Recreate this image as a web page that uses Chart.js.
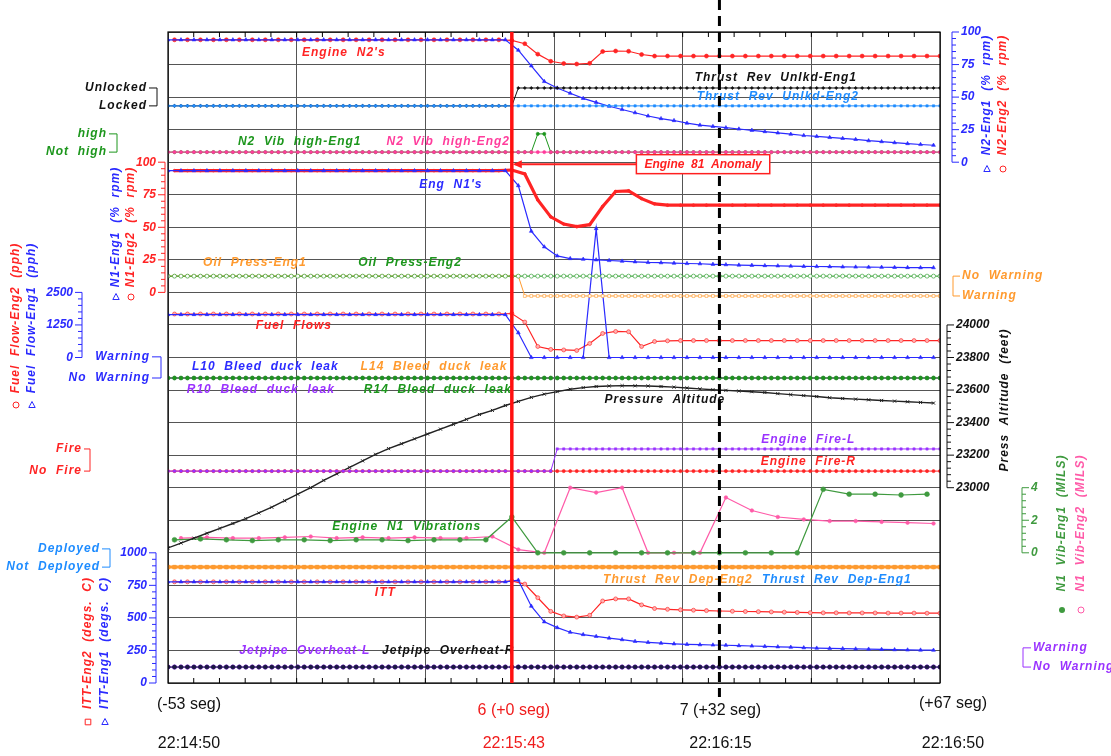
<!DOCTYPE html>
<html>
<head>
<meta charset="utf-8">
<script src="https://cdn.jsdelivr.net/npm/chart.js@4.4.1/dist/chart.umd.min.js"></script>
<style>html,body{margin:0;background:#fff}canvas{display:block}</style>
</head>
<body>
<canvas id="c" width="1111" height="756"></canvas>
<script>
// sample times, seconds from the event (22:15:43)
const T1 = [-53,-52,-51,-50,-49,-48,-47,-46,-45,-44,-43,-42,-41,-40,-39,-38,-37,-36,-35,-34,-33,-32,-31,-30,-29,-28,-27,-26,-25,-24,-23,-22,-21,-20,-19,-18,-17,-16,-15,-14,-13,-12,-11,-10,-9,-8,-7,-6,-5,-4,-3,-2,-1,0,1,2,3,4,5,6,7,8,9,10,11,12,13,14,15,16,17,18,19,20,21,22,23,24,25,26,27,28,29,30,31,32,33,34,35,36,37,38,39,40,41,42,43,44,45,46,47,48,49,50,51,52,53,54,55,56,57,58,59,60,61,62,63,64,65,66];
const T2 = [-53,-51,-49,-47,-45,-43,-41,-39,-37,-35,-33,-31,-29,-27,-25,-23,-21,-19,-17,-15,-13,-11,-9,-7,-5,-3,-1,1,3,5,7,9,11,13,15,17,19,21,23,25,27,29,31,33,35,37,39,41,43,45,47,49,51,53,55,57,59,61,63,65];
const T2e = [-52,-50,-48,-46,-44,-42,-40,-38,-36,-34,-32,-30,-28,-26,-24,-22,-20,-18,-16,-14,-12,-10,-8,-6,-4,-2,0,2,4,6,8,10,12,14,16,18,20,22,24,26,28,30,32,34,36,38,40,42,44,46,48,50,52,54,56,58,60,62,64,66];
const TV1 = [-52,-48,-44,-40,-36,-32,-28,-24,-20,-16,-12,-8,-4,0,4,8,12,16,20,24,28,32,36,40,44,48,52,56,60,64];
const TV2 = [-51,-47,-43,-39,-35,-31,-27,-23,-19,-15,-11,-7,-3,1,5,9,13,17,21,25,29,33,37,41,45,49,53,57,61,65];

// analog parameters: Eng1 on T2 (odd seconds), Eng2 on T2e (even seconds)
const n2Eng1 = [94,94,94,94,94,94,94,94,94, 94,94,94,94,94,94,94,94,94, 94,94,94,94,94,94,94,94,94,
  86,74,62,57,53,49,46,43,40.5,38,35.5,33.5,32,30,28.5,27.5,26.5,25.5,24.5,23.5,22.5,21.5,20.5,19.8,19,18.3,17.5,16.5,15.8,15,14.3,13.6,13];
const n2Eng2 = [94,94,94,94,94,94,94,94,94, 94,94,94,94,94,94,94,94,94, 94,94,94,94,94,94,94,94,
  93.5,91,83,77.5,75.8,75.4,76,85,85.4,85.2,82.7,81.5,81.5,81.5,81.5,81.5,81.5,81.5,81.5,81.5,81.5,81.5,81.5,81.5,81.5,81.5,81.5,81.5,81.5,81.5,81.5,81.5,81.5,81.5];
const n1Eng1 = [93.5,93.5,93.5,93.5,93.5,93.5,93.5,93.5,93.5, 93.5,93.5,93.5,93.5,93.5,93.5,93.5,93.5,93.5, 93.5,93.5,93.5,93.5,93.5,93.5,93.5,93.5,93.5,
  82,47,35,28,26,25.5,25,24.5,24,23.5,23,22.8,22.5,22.2,22,21.6,21.3,21,20.8,20.6,20.4,20.2,20,19.9,19.8,19.6,19.5,19.4,19.3,19.2,19.1,19,19];
const n1Eng2 = [93.5,93.5,93.5,93.5,93.5,93.5,93.5,93.5,93.5, 93.5,93.5,93.5,93.5,93.5,93.5,93.5,93.5,93.5, 93.5,93.5,93.5,93.5,93.5,93.5,93.5,93.5,
  94,91,71,58,52.5,50.5,52,66,77.5,78,72,68,67,67,67,67,67,67,67,67,67,67,67,67,67,67,67,67,67,67,67,67,67,67];
const ffEng1 = [1650,1650,1650,1650,1650,1650,1650,1650,1650, 1650,1650,1650,1650,1650,1650,1650,1650,1650, 1650,1650,1650,1650,1650,1650,1650,1650,1650,
  950,0,0,0,0,0,4950,0,0,0,0,0,0,0,0,0,0,0,0,0,0,0,0,0,0,0,0,0,0,0,0,0,0];
const ffEng2 = [1670,1670,1670,1670,1670,1670,1670,1670,1670, 1670,1670,1670,1670,1670,1670,1670,1670,1670, 1670,1670,1670,1670,1670,1670,1670,1670,
  1690,1360,423,310,290,270,538,923,1000,990,423,615,640,650,650,650,650,650,650,650,650,650,650,650,650,650,650,650,650,650,650,650,650,650];
const pressAlt = [22630,22660,22690,22720,22750,22780,22810,22845,22880,22920,22960,23000,23045,23085,23125,23165,23205,23240,23270,23300,
  23330,23360,23390,23420,23450,23475,23505,23530,23555,23575,23590,23605,23615,23622,23625,23627,23626,23625,23622,23618,
  23613,23607,23602,23598,23594,23590,23585,23578,23572,23566,23560,23553,23548,23544,23540,23536,23532,23528,23524,23520];
const ittEng1 = [777,777,777,777,777,777,777,777,777, 777,777,777,777,777,777,777,777,777, 777,777,777,777,777,777,777,777,777,
  790,590,470,425,390,372,358,345,333,320,312,306,301,297,294,292,290,287,284,281,278,275,271,268,266,264,262,260,258,256,254,253,252];
const ittEng2 = [777,777,777,777,777,777,777,777,777, 777,777,777,777,777,777,777,777,777, 777,777,777,777,777,777,777,777,
  785,760,655,550,515,506,520,630,646,646,600,572,566,562,559,556,553,551,549,548,546,544,542,540,539,539,538,538,538,537,537,537,536,536];
const vibEng1 = [0.8,0.85,0.8,0.75,0.8,0.8,0.75,0.8,0.8,0.75,0.8,0.8,0.8,2.2,0,0,0,0,0,0,0,0,0,0,0,3.9,3.6,3.6,3.55,3.6];
const vibEng2 = [0.9,0.95,0.9,0.9,0.95,1.0,0.9,0.95,0.9,0.95,0.9,0.9,1.0,0.2,0,4.0,3.7,4.0,0,0,0,3.4,2.6,2.2,2.05,1.95,1.95,1.9,1.85,1.8];

// discrete parameters on T1, as runs of [state, samples]
const trUnlkEng1 = [[0,54],[1,66]];
const trUnlkEng2 = [[0,120]];
const n2VibHiEng1 = [[0,57],[1,2],[0,61]];
const n2VibHiEng2 = [[0,120]];
const oilEng1 = [[0,55],[1,65]];
const oilEng2 = [[0,120]];
const bleedL10 = [[0,120]], bleedL14 = [[0,120]], bleedR10 = [[0,120]], bleedR14 = [[0,120]];
const fireL = [[0,60],[1,60]];
const fireR = [[0,120]];
const trDepEng1 = [[0,120]], trDepEng2 = [[0,120]];
const jetL = [[0,120]], jetR = [[0,120]];

// axis tick labels
const n2Ticks = [0,25,50,75,100];
const n1Ticks = [0,25,50,75,100];
const ffTicks = [0,1250,2500];
const altTicks = [23000,23200,23400,23600,23800,24000];
const vibTicks = [0,2,4];
const ittTicks = [0,250,500,750,1000];

const BLUE = '#2a2aff', RED = '#ff2424', GREEN = '#1c961c', PINK = '#ff3c9c', ORANGE = '#ff9a2e',
      LBLUE = '#1e8cff', PURPLE = '#9a32ff', BLACK = '#111', VGREEN = '#3f9a3f', VPINK = '#ff5aa8';
const FONT = '"Liberation Sans", Arial, sans-serif';

const expand = runs => runs.flatMap(([v, n]) => Array(n).fill(v));
const pts = (ts, vs) => ts.map((t, i) => ({x: t, y: vs[i]}));

// a value axis living in one band of the 20 grid rows (rows counted from the top)
function band(v0, r0, v1, r1) {
  const k = (v1 - v0) / (r1 - r0);
  const top = v0 - r0 * k, bot = v0 + (20 - r0) * k;
  return top > bot
    ? {type: 'linear', display: false, min: bot, max: top}
    : {type: 'linear', display: false, min: top, max: bot, reverse: true};
}

function line(label, ts, vs, axis, color, o = {}) {
  return Object.assign({
    label, data: pts(ts, vs), yAxisID: axis,
    borderColor: color, backgroundColor: color, borderWidth: 1.2,
    pointRadius: 1.8, pointStyle: 'circle', pointBorderWidth: 0.6, pointBorderColor: color
  }, o);
}
const disc = (label, runs, axis, color, o = {}) => line(label, T1, expand(runs), axis, color, Object.assign({pointRadius: 1.6, borderWidth: 1}, o));

const datasets = [
  disc('Thrust Rev Unlkd-Eng2', trUnlkEng2, 'yTrU', LBLUE, {pointStyle: 'rect'}),
  disc('Thrust Rev Unlkd-Eng1', trUnlkEng1, 'yTrU', BLACK, {pointStyle: 'rectRot'}),
  disc('N2 Vib high-Eng2', n2VibHiEng2, 'yVibH', PINK),
  disc('N2 Vib high-Eng1', n2VibHiEng1, 'yVibH', GREEN),
  disc('Oil Press-Eng2', oilEng2, 'yOil', GREEN, {backgroundColor: '#fff', pointRadius: 2}),
  disc('Oil Press-Eng1', oilEng1, 'yOil', ORANGE, {pointStyle: 'rect', backgroundColor: '#fff', pointRadius: 2}),
  disc('R14 Bleed duck leak', bleedR14, 'yBleed', GREEN, {pointRadius: 2}),
  disc('R10 Bleed duck leak', bleedR10, 'yBleed', PURPLE),
  disc('L14 Bleed duck leak', bleedL14, 'yBleed', ORANGE),
  disc('L10 Bleed duck leak', bleedL10, 'yBleed', BLUE),
  disc('Engine Fire-L', fireL, 'yFire', PURPLE, {pointStyle: 'rect'}),
  disc('Engine Fire-R', fireR, 'yFire', RED),
  disc('Thrust Rev Dep-Eng2', trDepEng2, 'yDep', ORANGE, {pointStyle: 'rect', pointRadius: 2.6, borderWidth: 3}),
  disc('Thrust Rev Dep-Eng1', trDepEng1, 'yDep', LBLUE),
  disc('Jetpipe Overheat-R', jetR, 'yJet', '#1a1a40', {pointRadius: 2}),
  disc('Jetpipe Overheat-L', jetL, 'yJet', PURPLE, {pointRadius: 2.2}),
  line('N2-Eng1', T2, n2Eng1, 'yN2', BLUE, {pointStyle: 'triangle', pointRadius: 2.2}),
  line('N2-Eng2', T2e, n2Eng2, 'yN2', RED, {pointRadius: 2}),
  line('N1-Eng1', T2, n1Eng1, 'yN1', BLUE, {pointStyle: 'triangle', pointRadius: 2.2}),
  line('N1-Eng2', T2e, n1Eng2, 'yN1', RED, {borderWidth: 3.2, pointRadius: 1.4}),
  line('Fuel Flow-Eng1', T2, ffEng1, 'yFF', BLUE, {pointStyle: 'triangle', pointRadius: 2.2}),
  line('Fuel Flow-Eng2', T2e, ffEng2, 'yFF', RED, {pointRadius: 2, backgroundColor: '#ffb0b0'}),
  line('Press Altitude', T2, pressAlt, 'yAlt', '#222', {pointStyle: 'crossRot', pointRadius: 2.2, borderWidth: 1.4, pointBorderWidth: 1}),
  line('N1 Vib-Eng1', TV1, vibEng1, 'yVib', VGREEN, {pointRadius: 2.4}),
  line('N1 Vib-Eng2', TV2, vibEng2, 'yVib', VPINK, {pointRadius: 1.8}),
  line('ITT-Eng1', T2, ittEng1, 'yITT', BLUE, {pointStyle: 'triangle', pointRadius: 2.2}),
  line('ITT-Eng2', T2e, ittEng2, 'yITT', RED, {pointRadius: 2, backgroundColor: '#ffb0b0'})
];

// in-plot captions: [text, colour, seconds, grid row]
const notes = [
  ["Engine  N2's", RED, -25.9, 0.65],
  ['Thrust  Rev  Unlkd-Eng1', BLACK, 40.7, 1.41],
  ['Thrust  Rev  Unlkd-Eng2', LBLUE, 41.0, 2.0],
  ['N2  Vib  high-Eng1', GREEN, -32.7, 3.38],
  ['N2  Vib  high-Eng2', PINK, -9.8, 3.38],
  ["Eng  N1's", BLUE, -9.4, 4.70],
  ['Oil  Press-Eng1', ORANGE, -39.6, 7.10],
  ['Oil  Press-Eng2', GREEN, -15.7, 7.10],
  ['Fuel  Flows', RED, -33.6, 9.03],
  ['L10  Bleed  duck  leak', BLUE, -38.0, 10.29],
  ['L14  Bleed  duck  leak', ORANGE, -12.0, 10.29],
  ['R10  Bleed  duck  leak', PURPLE, -38.7, 11.0],
  ['R14  Bleed  duck  leak', GREEN, -11.4, 11.0],
  ['Pressure  Altitude', BLACK, 23.6, 11.3],
  ['Engine  Fire-L', PURPLE, 45.7, 12.53],
  ['Engine  Fire-R', RED, 45.7, 13.21],
  ['Engine  N1  Vibrations', GREEN, -16.2, 15.2],
  ['Thrust  Rev  Dep-Eng2', ORANGE, 25.6, 16.84],
  ['Thrust  Rev  Dep-Eng1', LBLUE, 50.1, 16.84],
  ['ITT', RED, -19.5, 17.24],
  ['Jetpipe  Overheat-L', PURPLE, -31.9, 19.02],
  ['Jetpipe  Overheat-R', BLACK, -9.8, 19.02]
];

// value axes drawn beside the plot
const axes = [
  {scale: 'yN2', x: 952, side: 1, ticks: n2Ticks, minor: 5, color: BLUE, tcy: 95, my: 169,
   titles: [['N2-Eng1  (%  rpm)', BLUE, 987, 'tri'], ['N2-Eng2  (%  rpm)', RED, 1003, 'circ']]},
  {scale: 'yN1', x: 165, side: -1, ticks: n1Ticks, minor: 5, color: RED, tcy: 227, my: 297,
   titles: [['N1-Eng1  (%  rpm)', BLUE, 116, 'tri'], ['N1-Eng2  (%  rpm)', RED, 131, 'circ']]},
  {scale: 'yFF', x: 82, side: -1, ticks: ffTicks, minor: 250, color: BLUE, tcy: 318, my: 405,
   titles: [['Fuel  Flow-Eng2  (pph)', RED, 16, 'circ'], ['Fuel  Flow-Eng1  (pph)', BLUE, 32, 'tri']]},
  {scale: 'yAlt', x: 947, side: 1, ticks: altTicks, minor: 40, color: BLACK, tcy: 400, my: null,
   titles: [['Press  Altitude  (feet)', BLACK, 1005, null]]},
  {scale: 'yVib', x: 1022, side: 1, ticks: vibTicks, minor: 0.4, color: VGREEN, tcy: 523, my: 610,
   titles: [['N1  Vib-Eng1  (MILS)', VGREEN, 1062, 'dot'], ['N1  Vib-Eng2  (MILS)', VPINK, 1081, 'circ']]},
  {scale: 'yITT', x: 156, side: -1, ticks: ittTicks, minor: 50, color: BLUE, tcy: 643, my: 722,
   titles: [['ITT-Eng2  (degs.  C)', RED, 88, 'sq'], ['ITT-Eng1  (degs.  C)', BLUE, 105, 'tri']]}
];

// two-state captions: [scale, side, text edge x, bracket x, colour, state 1 text, state 0 text]
const states = [
  ['yTrU', -1, 147, 157, BLACK, 'Unlocked', 'Locked'],
  ['yVibH', -1, 107, 117, GREEN, 'high', 'Not  high'],
  ['yOil', 1, 962, 953, ORANGE, 'Warning', 'No  Warning'],
  ['yBleed', -1, 150, 161, BLUE, 'Warning', 'No  Warning'],
  ['yFire', -1, 82, 90, RED, 'Fire', 'No  Fire'],
  ['yDep', -1, 100, 110, LBLUE, 'Deployed', 'Not  Deployed'],
  ['yJet', 1, 1033, 1023, PURPLE, 'Warning', 'No  Warning']
];

// time marks along the bottom
const timeMarks = [
  {t: -53, dx: 21, dy: 705, seg: '(-53 seg)', clock: '22:14:50', color: BLACK},
  {t: 0, dx: 2, dy: 711, seg: '6 (+0 seg)', clock: '22:15:43', color: '#f01c1c'},
  {t: 32, dx: 1, dy: 711, seg: '7 (+32 seg)', clock: '22:16:15', color: BLACK},
  {t: 66, dx: 13, dy: 704, seg: '(+67 seg)', clock: '22:16:50', color: BLACK}
];

function text(ctx, s, x, y, color, font, align, spacing) {
  ctx.font = font; ctx.fillStyle = color; ctx.textAlign = align || 'center'; ctx.textBaseline = 'middle';
  ctx.letterSpacing = spacing || '0px';
  ctx.fillText(s, x, y);
  ctx.letterSpacing = '0px';
}

function symbol(ctx, kind, x, y, color) {
  ctx.strokeStyle = color; ctx.fillStyle = color; ctx.lineWidth = 1;
  ctx.beginPath();
  if (kind === 'tri') { ctx.moveTo(x, y - 3.5); ctx.lineTo(x + 3.2, y + 2.5); ctx.lineTo(x - 3.2, y + 2.5); ctx.closePath(); ctx.stroke(); }
  else if (kind === 'circ') { ctx.arc(x, y, 3, 0, Math.PI * 2); ctx.stroke(); }
  else if (kind === 'sq') { ctx.rect(x - 2.8, y - 2.8, 5.6, 5.6); ctx.stroke(); }
  else if (kind === 'dot') { ctx.arc(x, y, 3, 0, Math.PI * 2); ctx.fill(); }
}

const BI = 'bold italic 12px ' + FONT;

const deco = {
  id: 'deco',
  afterDatasetsDraw(chart) {
    const {ctx, chartArea: a, scales: s} = chart;
    ctx.save();
    // frame and minor ticks on the time borders
    ctx.strokeStyle = '#000'; ctx.lineWidth = 1.2;
    ctx.strokeRect(a.left, a.top, a.right - a.left, a.bottom - a.top);
    const step = 119 / 30;
    ctx.lineWidth = 1;
    for (let k = 1; k < 30; k++) {
      const x = s.x.getPixelForValue(-53 + k * step);
      ctx.beginPath(); ctx.moveTo(x, a.top); ctx.lineTo(x, a.top + 5);
      ctx.moveTo(x, a.bottom); ctx.lineTo(x, a.bottom - 5); ctx.stroke();
    }

    // captions inside the plot
    notes.forEach(([t, c, sec, row]) => text(ctx, t, s.x.getPixelForValue(sec), s.y.getPixelForValue(row), c, BI, 'center', '1px'));

    // event line and +32 s marker
    const x0 = s.x.getPixelForValue(0), x32 = s.x.getPixelForValue(32);
    ctx.strokeStyle = '#ff1010'; ctx.lineWidth = 3.5;
    ctx.beginPath(); ctx.moveTo(x0, a.top); ctx.lineTo(x0, a.bottom); ctx.stroke();
    ctx.strokeStyle = '#000'; ctx.lineWidth = 3; ctx.setLineDash([10, 6]);
    ctx.beginPath(); ctx.moveTo(x32, 0); ctx.lineTo(x32, a.bottom + 14); ctx.stroke();
    ctx.setLineDash([]);

    // anomaly callout
    const ay = s.y.getPixelForValue(4.06), bx = s.x.getPixelForValue(19.2);
    ctx.font = BI;
    const label = 'Engine  81  Anomaly', w = ctx.measureText(label).width + 16;
    ctx.fillStyle = '#fff'; ctx.fillRect(bx, ay - 9.5, w, 19);
    ctx.strokeStyle = '#ff2020'; ctx.lineWidth = 1.5; ctx.strokeRect(bx, ay - 9.5, w, 19);
    text(ctx, label, bx + w / 2, ay + 0.5, '#ff2020', BI, 'center', '0px');
    ctx.lineWidth = 2;
    ctx.beginPath(); ctx.moveTo(bx, ay); ctx.lineTo(x0 + 3, ay); ctx.stroke();
    ctx.fillStyle = '#ff2020';
    ctx.beginPath(); ctx.moveTo(x0 + 1, ay); ctx.lineTo(x0 + 10, ay - 4); ctx.lineTo(x0 + 10, ay + 4); ctx.closePath(); ctx.fill();

    // value axes
    axes.forEach(ax => {
      const sc = s[ax.scale];
      const lo = ax.ticks[0], hi = ax.ticks[ax.ticks.length - 1];
      ctx.strokeStyle = ax.color; ctx.lineWidth = 1;
      ctx.beginPath(); ctx.moveTo(ax.x, sc.getPixelForValue(lo)); ctx.lineTo(ax.x, sc.getPixelForValue(hi)); ctx.stroke();
      for (let v = lo; v <= hi + 1e-6; v += ax.minor) {
        const y = sc.getPixelForValue(v);
        const major = ax.ticks.some(m => Math.abs(m - v) < 1e-6);
        ctx.beginPath(); ctx.moveTo(ax.x, y); ctx.lineTo(ax.x + ax.side * (major ? 7 : 4), y); ctx.stroke();
      }
      ax.ticks.forEach(v => text(ctx, String(v), ax.x + ax.side * 9, sc.getPixelForValue(v), ax.color, BI, ax.side > 0 ? 'left' : 'right'));
      ax.titles.forEach(([t, c, x, mk]) => {
        ctx.save(); ctx.translate(x, ax.tcy); ctx.rotate(-Math.PI / 2);
        text(ctx, t, 0, 0, c, BI, 'center', '1px');
        ctx.restore();
        if (mk) symbol(ctx, mk, x, ax.my, c);
      });
    });

    // two-state captions with brackets
    states.forEach(([id, side, tx, bxp, c, on, off]) => {
      const sc = s[id], y1 = sc.getPixelForValue(1), y0 = sc.getPixelForValue(0);
      const al = side < 0 ? 'right' : 'left';
      text(ctx, on, tx, y1, c, BI, al, '1px');
      text(ctx, off, tx, y0, c, BI, al, '1px');
      ctx.strokeStyle = c; ctx.lineWidth = 1;
      const ex = tx + (side < 0 ? 2 : -2);
      ctx.beginPath();
      ctx.moveTo(ex, y1); ctx.lineTo(bxp, y1); ctx.lineTo(bxp, y0); ctx.lineTo(ex, y0);
      ctx.stroke();
    });

    // time labels
    timeMarks.forEach(m => {
      const x = s.x.getPixelForValue(m.t) + m.dx;
      text(ctx, m.seg, x, m.dy, m.color, '16px ' + FONT);
      text(ctx, m.clock, x, 744, m.color, '16px ' + FONT);
    });
    ctx.restore();
  }
};

new Chart(document.getElementById('c'), {
  type: 'line',
  data: {datasets},
  options: {
    responsive: false,
    animation: false,
    devicePixelRatio: 1,
    layout: {padding: {left: 168, right: 171, top: 32, bottom: 73}},
    plugins: {legend: {display: false}, tooltip: {enabled: false}},
    elements: {line: {tension: 0}},
    scales: {
      x: {
        type: 'linear', min: -53, max: 66,
        afterBuildTicks: sc => { sc.ticks = [0, 1, 2, 3, 4, 5, 6].map(k => ({value: -53 + k * 119 / 6})); },
        ticks: {display: false},
        grid: {color: '#555', lineWidth: 1, drawTicks: false},
        border: {display: false}
      },
      y: {
        type: 'linear', min: 0, max: 20, reverse: true,
        ticks: {display: false, stepSize: 1, autoSkip: false},
        grid: {color: '#555', lineWidth: 1, drawTicks: false},
        border: {display: false}
      },
      yN2: band(0, 4, 100, 0),
      yTrU: band(0, 2.27, 1, 1.72),
      yVibH: band(0, 3.69, 1, 3.13),
      yN1: band(0, 8, 100, 4),
      yOil: band(0, 7.5, 1, 8.11),
      yFF: band(0, 10, 2500, 8),
      yBleed: band(0, 10.63, 1, 9.98),
      yAlt: band(23000, 14, 24000, 9),
      yFire: band(0, 13.49, 1, 12.81),
      yVib: band(0, 16, 4, 14),
      yDep: band(0, 16.44, 1, 15.88),
      yITT: band(0, 20, 1000, 16),
      yJet: band(0, 19.51, 1, 18.92)
    }
  },
  plugins: [deco]
});
</script>
</body>
</html>
